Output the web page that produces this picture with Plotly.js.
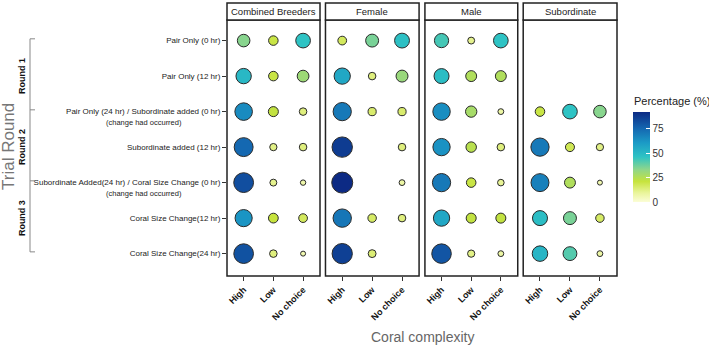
<!DOCTYPE html>
<html>
<head>
<meta charset="utf-8">
<script src="https://cdn.plot.ly/plotly-3.0.1.min.js"></script>
<style>html,body{margin:0;padding:0;background:#fff;}#chart{width:709px;height:346px;}</style>
</head>
<body>
<div id="chart"></div>
<script>
// ---- Data ----
const categories = ['High', 'Low', 'No choice'];
const rowLabels = [
  'Pair Only (0 hr)',
  'Pair Only (12 hr)',
  'Pair Only (24 hr) / Subordinate added (0 hr)',
  'Subordinate added (12 hr)',
  'Subordinate Added(24 hr) / Coral Size Change (0 hr)',
  'Coral Size Change(12 hr)',
  'Coral Size Change(24 hr)'
];
const noteRows = [2, 4];
const noteText = '(change had occurred)';
const groups = ['Combined Breeders', 'Female', 'Male', 'Subordinate'];
const roundLabels = ['Round 1', 'Round 2', 'Round 3'];

// percentages per row: [High, Low, No choice]; null = no point
const combinedBreeders = [[34, 20, 46], [50, 20, 30], [65, 22, 13], [75, 12, 13], [82, 11, 7], [62, 21, 17], [81, 13, 6]];
const female = [[17, 36, 47], [56, 13, 31], [70, 15, 15], [87, null, 13], [92, null, 8], [71, 16, 13], [86, 14, null]];
const male = [[43, 11, 46], [48, 26, 26], [64, 28, 8], [63, 24, 13], [70, 20, 10], [56, 22, 22], [80, 12, 8]];
const subordinate = [[null, null, null], [null, null, null], [20, 46, 34], [70, 18, 12], [68, 26, 6], [48, 36, 16], [51, 41, 8]];
const groupData = [combinedBreeders, female, male, subordinate];

// ---- Scales ----
const allVals = groupData.flat(2).filter(v => v !== null);
const vmin = Math.min(...allVals), vmax = Math.max(...allVals);
const dmin = 5, dmax = 21;
const sizeFor = v => dmin + (dmax - dmin) * (Math.sqrt(v) - Math.sqrt(vmin)) / (Math.sqrt(vmax) - Math.sqrt(vmin));

const traces = groupData.map((rows, gi) => {
  const x = [], y = [], c = [], s = [];
  rows.forEach((row, ri) => row.forEach((v, ci) => {
    if (v === null) return;
    x.push(categories[ci]); y.push(rowLabels[ri]); c.push(v); s.push(sizeFor(v));
  }));
  const ax = gi === 0 ? '' : String(gi + 1);
  return {
    type: 'scatter', mode: 'markers', x, y,
    xaxis: 'x' + ax, yaxis: 'y',
    marker: {color: c, coloraxis: 'coloraxis', size: s, sizemode: 'diameter', opacity: 1,
             line: {color: '#2a2a2a', width: 1}},
    hoverinfo: 'x+y+text', text: c.map(v => v + '%'), showlegend: false
  };
});

// ---- Layout ----
const plotL = 227, plotR = 617, plotT = 20, plotB = 276;
const W = plotR - plotL, H = plotB - plotT;
const px2x = p => (p - plotL) / W;
const px2y = p => (plotB - p) / H;
const domains = [[0, 0.2385], [0.2525, 0.4925], [0.5075, 0.7455], [0.7595, 1]];

const layout = {
  width: 709, height: 346,
  margin: {l: plotL, r: 709 - plotR, t: plotT, b: 346 - plotB, pad: 0},
  paper_bgcolor: '#fff', plot_bgcolor: '#fff',
  font: {family: 'Liberation Sans, Arial, sans-serif', color: '#222'},
  coloraxis: {
    cmin: 0, cmax: vmax,
    colorscale: [[0, '#fbfdd6'], [0.1, '#eaf59c'], [0.23, '#c6e33c'], [0.36, '#8fd68a'],
                 [0.5, '#2ec3c4'], [0.66, '#1b9ac6'], [0.82, '#1466b0'], [1, '#0c2a84']],
    colorbar: {
      x: px2x(633), xanchor: 'left', y: px2y(157), yanchor: 'middle',
      lenmode: 'pixels', len: 90, thicknessmode: 'pixels', thickness: 17,
      outlinewidth: 0, xpad: 0, ypad: 0,
      ticks: 'inside', tickcolor: '#fff', ticklen: 4, tickwidth: 1,
      tickvals: [0, 25, 50, 75], tickfont: {size: 10, color: '#333'}
    }
  },
  yaxis: {
    type: 'category', categoryorder: 'array', categoryarray: rowLabels,
    range: [6.63, -0.58], anchor: 'x', showgrid: false, zeroline: false, showline: false,
    ticks: 'outside', ticklen: 4, tickcolor: '#333', tickwidth: 1,
    tickfont: {family: 'Liberation Sans, Arial, sans-serif', size: 8, color: '#222'},
    fixedrange: true
  },
  shapes: [], annotations: []
};

groups.forEach((g, gi) => {
  const ax = gi === 0 ? '' : String(gi + 1);
  layout['xaxis' + ax] = {
    domain: domains[gi], anchor: 'y', type: 'category',
    categoryorder: 'array', categoryarray: categories, range: [-0.56, 2.57],
    showgrid: false, zeroline: false, showline: false,
    ticks: 'outside', ticklen: 4, tickcolor: '#333', tickwidth: 1, tickangle: -45,
    tickfont: {family: 'Liberation Sans, Arial, sans-serif', size: 9, color: '#111', weight: 'bold'},
    fixedrange: true
  };
  layout.shapes.push({type: 'rect', xref: 'x' + ax + ' domain', yref: 'y domain',
    x0: 0, x1: 1, y0: 0, y1: 1, line: {color: '#222', width: 1.5}, fillcolor: 'rgba(0,0,0,0)'});
  layout.shapes.push({type: 'rect', xref: 'x' + ax + ' domain', yref: 'y domain',
    x0: 0, x1: 1, y0: 1, y1: 1 + 17 / H, line: {color: '#222', width: 1.5}, fillcolor: '#fff'});
  layout.annotations.push({xref: 'x' + ax + ' domain', yref: 'y domain', x: 0.5, y: 1 + 8.5 / H,
    text: g, showarrow: false, xanchor: 'center', yanchor: 'middle',
    font: {size: 9.5, color: '#222'}});
});

// colorbar title
layout.annotations.push({xref: 'paper', yref: 'paper', x: px2x(632), y: px2y(101),
  text: 'Percentage (%)', showarrow: false, xanchor: 'left', yanchor: 'middle',
  font: {size: 11, color: '#222'}});

// "(change had occurred)" notes
noteRows.forEach(ri => layout.annotations.push({
  xref: 'paper', yref: 'y', x: px2x(144), y: ri, yshift: -11, text: noteText,
  showarrow: false, xanchor: 'center', yanchor: 'middle',
  font: {size: 7.5, color: '#222'}
}));

// Round brackets
const bx = px2x(30), bx2 = px2x(35);
const bracketRows = [0, 2, 4, 6];
layout.shapes.push({type: 'line', xref: 'paper', yref: 'y', x0: bx, x1: bx,
  y0: bracketRows[0] - 0.05, y1: bracketRows[3] - 0.05, line: {color: '#888', width: 1}});
bracketRows.forEach(r => layout.shapes.push({type: 'line', xref: 'paper', yref: 'y',
  x0: bx, x1: bx2, y0: r - 0.05, y1: r - 0.05, line: {color: '#888', width: 1}}));
roundLabels.forEach((t, i) => layout.annotations.push({
  xref: 'paper', yref: 'y', x: px2x(22), y: 2 * i + 1, text: t, textangle: -90,
  showarrow: false, xanchor: 'center', yanchor: 'middle',
  font: {size: 9, color: '#111', weight: 'bold'}
}));

// axis titles
layout.annotations.push({xref: 'paper', yref: 'paper', x: px2x(8), y: px2y(147),
  text: 'Trial Round', textangle: -90, showarrow: false, xanchor: 'center', yanchor: 'middle',
  font: {size: 17, color: '#777'}});
layout.annotations.push({xref: 'paper', yref: 'paper', x: 0.5, y: px2y(337),
  text: 'Coral complexity', showarrow: false, xanchor: 'center', yanchor: 'middle',
  font: {size: 14, color: '#666'}});

Plotly.newPlot('chart', traces, layout, {displayModeBar: false, staticPlot: true});
</script>
</body>
</html>
